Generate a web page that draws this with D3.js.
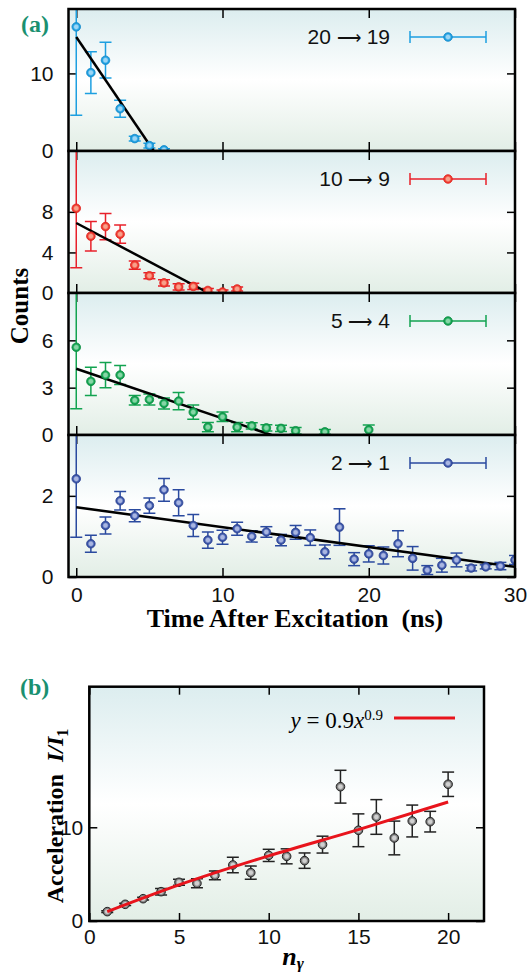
<!DOCTYPE html>
<html>
<head>
<meta charset="utf-8">
<script src="https://cdn.jsdelivr.net/npm/d3@7"></script>
<style>
  body { margin: 0; background: #fff; }
  svg text { font-family: "Liberation Sans", Arial, sans-serif; }
  .serif { font-family: "Liberation Serif", "Times New Roman", serif !important; }
</style>
</head>
<body>
<div id="chart"></div>
<script>
// ---- data ----
// (a) 20 -> 19
const time20 = [0, 1, 2, 3, 4, 5, 6];
const counts20 = [16.0, 10.1, 11.7, 5.45, 1.6, 0.7, 0.15];
const err20 = [11.4, 2.7, 2.3, 1.1, 0.3, 0.3, 0.15];
const fit20 = [[0, 14.7], [5.3, 0]];

// (a) 10 -> 9
const time10 = [0, 1, 2, 3, 4, 5, 6, 7, 8, 9, 10, 11];
const counts10 = [8.35, 5.6, 6.55, 5.8, 2.75, 1.7, 1.0, 0.6, 0.65, 0.25, 0.1, 0.4];
const err10 = [5.85, 1.45, 1.3, 0.9, 0.4, 0.3, 0.3, 0.3, 0.3, 0.2, 0.2, 0.2];
const fit10 = [[0, 6.9], [9.05, 0]];

// (a) 5 -> 4
const time5 = [0, 1, 2, 3, 4, 5, 6, 7, 8, 9, 10, 11, 12, 13, 14, 15, 17, 20];
const counts5 = [5.56, 3.4, 3.8, 3.8, 2.2, 2.25, 2.0, 2.15, 1.45, 0.5, 1.15, 0.5, 0.58, 0.45, 0.42, 0.27, 0.2, 0.33];
const err5 = [3.9, 0.9, 0.8, 0.6, 0.3, 0.35, 0.35, 0.55, 0.45, 0.3, 0.3, 0.3, 0.2, 0.2, 0.2, 0.2, 0.15, 0.3];
const fit5 = [[0, 4.2], [13.35, 0]];

// (a) 2 -> 1
const time2 = d3.range(0, 31);
const counts2 = [2.42, 0.82, 1.27, 1.88, 1.51, 1.76, 2.15, 1.83, 1.27, 0.91, 0.98, 1.19, 1.0, 1.11, 0.91, 1.1,
  0.97, 0.62, 1.23, 0.44, 0.57, 0.53, 0.82, 0.46, 0.17, 0.29, 0.42, 0.22, 0.25, 0.27, 0.42];
const err2 = [1.44, 0.21, 0.21, 0.23, 0.15, 0.19, 0.28, 0.32, 0.27, 0.2, 0.17, 0.16, 0.14, 0.13, 0.14, 0.17,
  0.19, 0.17, 0.45, 0.16, 0.2, 0.21, 0.32, 0.29, 0.11, 0.17, 0.17, 0.07, 0.05, 0.09, 0.11];
const fit2 = [[0, 1.72], [30, 0.25]];

// (b) acceleration vs photon number
const nGamma = [1, 2, 3, 4, 5, 6, 7, 8, 9, 10, 11, 12, 13, 14, 15, 16, 17, 18, 19, 20];
const accel = [1.0, 1.78, 2.38, 3.13, 4.13, 4.02, 4.87, 5.98, 5.16, 7.0, 6.9, 6.44, 8.15, 14.33, 9.68, 11.1, 8.86, 10.67, 10.6, 14.59];
const accelErr = [0.1, 0.12, 0.15, 0.35, 0.32, 0.48, 0.47, 0.82, 0.7, 0.65, 0.8, 0.82, 0.9, 1.75, 1.75, 1.85, 1.8, 1.7, 1.1, 1.3];
const powerFit = [[1, 1.0], [5, 3.85], [10, 6.95], [15, 9.75], [20, 12.7]];

const W = 528, H = 972;
const svg = d3.select("#chart").append("svg").attr("width", W).attr("height", H);
const defs = svg.append("defs");

// background gradient (blue-ish top, white middle, green-ish bottom)
const bg = defs.append("linearGradient").attr("id", "bg").attr("x1", 0).attr("x2", 0).attr("y1", 0).attr("y2", 1);
bg.append("stop").attr("offset", "0%").attr("stop-color", "#dcedef");
bg.append("stop").attr("offset", "50%").attr("stop-color", "#ffffff");
bg.append("stop").attr("offset", "100%").attr("stop-color", "#e2eee6");

// shaded marker gradients
function markerGradient(id, light, base) {
  const g = defs.append("radialGradient").attr("id", id).attr("cx", "50%").attr("cy", "50%").attr("r", "50%");
  g.append("stop").attr("offset", "0%").attr("stop-color", light);
  g.append("stop").attr("offset", "40%").attr("stop-color", light);
  g.append("stop").attr("offset", "75%").attr("stop-color", base);
  g.append("stop").attr("offset", "100%").attr("stop-color", base);
}
markerGradient("mBlue", "#9bd6f6", "#1d9fe0");
markerGradient("mRed", "#f8a08a", "#ee3b30");
markerGradient("mGreen", "#86d6a6", "#12a350");
markerGradient("mNavy", "#a9b6e2", "#3a55a8");
markerGradient("mGray", "#d0d0d0", "#7a7a7a");

// ---- panel (a) ----
const left = 68.5, right = 515;
const x = d3.scaleLinear().domain([-0.53, 30]).range([left, right]);

const panels = [
  { time: time20, counts: counts20, err: err20, fit: fit20, top: 9, bottom: 151, max: 18.3, ticks: [0, 10],
    from: "20", to: "19", color: "#1d9fe0", stroke: "#1588c8", grad: "mBlue" },
  { time: time10, counts: counts10, err: err10, fit: fit10, top: 151, bottom: 293, max: 14, ticks: [0, 4, 8],
    from: "10", to: "9", color: "#e8202a", stroke: "#e0201a", grad: "mRed" },
  { time: time5, counts: counts5, err: err5, fit: fit5, top: 293, bottom: 435, max: 9, ticks: [0, 3, 6],
    from: "5", to: "4", color: "#12a350", stroke: "#0c8c42", grad: "mGreen" },
  { time: time2, counts: counts2, err: err2, fit: fit2, top: 435, bottom: 577, max: 3.5, ticks: [0, 2],
    from: "2", to: "1", color: "#2a4a9f", stroke: "#2a3f8f", grad: "mNavy" }
];

panels.forEach((p, i) => {
  const y = d3.scaleLinear().domain([0, p.max]).range([p.bottom, p.top]);
  const clipId = "clipA" + i;
  defs.append("clipPath").attr("id", clipId)
    .append("rect").attr("x", left).attr("y", p.top).attr("width", right - left).attr("height", p.bottom - p.top);

  // background
  svg.append("rect").attr("x", left).attr("y", p.top).attr("width", right - left)
    .attr("height", p.bottom - p.top).attr("fill", "url(#bg)");

  // axes with inward ticks
  const gl = svg.append("g").attr("transform", `translate(${left},0)`)
    .call(d3.axisLeft(y).tickValues(p.ticks).tickSize(-8).tickPadding(15).tickFormat(d3.format("d")));
  const gr = svg.append("g").attr("transform", `translate(${right},0)`)
    .call(d3.axisRight(y).tickValues(p.ticks).tickSize(-8).tickFormat(""));
  const gt = svg.append("g").attr("transform", `translate(0,${p.top})`)
    .call(d3.axisTop(x).tickValues([0, 10, 20, 30]).tickSize(-9).tickFormat(""));
  const gb = svg.append("g").attr("transform", `translate(0,${p.bottom})`)
    .call(d3.axisBottom(x).tickValues([0, 10, 20, 30]).tickSize(-9).tickPadding(10)
      .tickFormat(i === panels.length - 1 ? d3.format("d") : ""));
  [gl, gr, gt, gb].forEach((g) => {
    g.select(".domain").remove();
    g.selectAll("line").attr("stroke", "#000").attr("stroke-width", 1.5);
    g.selectAll("text").attr("font-size", 21).attr("fill", "#111")
      .style("font-family", "'Liberation Sans', Arial, sans-serif");
  });

  const plot = svg.append("g").attr("clip-path", `url(#${clipId})`);
  const pts = p.time.map((t, k) => ({ t: t, c: p.counts[k], e: p.err[k] }));

  // error bars
  const eb = plot.selectAll(".eb" + i).data(pts).enter().append("g")
    .attr("stroke", p.color).attr("stroke-width", 1.5).attr("fill", "none");
  eb.append("line").attr("x1", (d) => x(d.t)).attr("x2", (d) => x(d.t))
    .attr("y1", (d) => y(d.c + d.e)).attr("y2", (d) => y(Math.max(d.c - d.e, 0)));
  eb.append("line").attr("x1", (d) => x(d.t) - 6).attr("x2", (d) => x(d.t) + 6)
    .attr("y1", (d) => y(d.c + d.e)).attr("y2", (d) => y(d.c + d.e));
  eb.append("line").attr("x1", (d) => x(d.t) - 6).attr("x2", (d) => x(d.t) + 6)
    .attr("y1", (d) => y(Math.max(d.c - d.e, 0))).attr("y2", (d) => y(Math.max(d.c - d.e, 0)));

  // fit line
  plot.append("path").datum(p.fit)
    .attr("d", d3.line().x((d) => x(d[0])).y((d) => y(d[1])))
    .attr("fill", "none").attr("stroke", "#000").attr("stroke-width", 2.5);

  // markers
  plot.selectAll(".pt" + i).data(pts).enter().append("circle")
    .attr("cx", (d) => x(d.t)).attr("cy", (d) => y(d.c)).attr("r", 4.3)
    .attr("fill", `url(#${p.grad})`).attr("stroke", p.stroke).attr("stroke-width", 0.8);

  // legend
  const ly = p.top + 28;
  const lt = svg.append("text").attr("x", 390).attr("y", ly).attr("dy", "0.35em").attr("text-anchor", "end")
    .attr("font-size", 21).attr("fill", "#111").attr("xml:space", "preserve");
  lt.append("tspan").text(p.from + " ");
  lt.append("tspan").attr("font-size", 17).text("\u27F6");
  lt.append("tspan").text(" " + p.to);
  const lg = svg.append("g").attr("stroke", p.color).attr("stroke-width", 1.5);
  lg.append("line").attr("x1", 410).attr("x2", 486).attr("y1", ly).attr("y2", ly);
  lg.append("line").attr("x1", 410).attr("x2", 410).attr("y1", ly - 6).attr("y2", ly + 6);
  lg.append("line").attr("x1", 486).attr("x2", 486).attr("y1", ly - 6).attr("y2", ly + 6);
  svg.append("circle").attr("cx", 448).attr("cy", ly).attr("r", 4.3)
    .attr("fill", `url(#${p.grad})`).attr("stroke", p.stroke).attr("stroke-width", 0.8);

  // frame
  svg.append("rect").attr("x", left).attr("y", p.top).attr("width", right - left)
    .attr("height", p.bottom - p.top).attr("fill", "none").attr("stroke", "#000").attr("stroke-width", 2.5);
});

// panel (a) labels
svg.append("text").attr("class", "serif").attr("x", 21).attr("y", 32)
  .attr("font-size", 24).attr("font-weight", "bold").attr("fill", "#1a9070").text("(a)");
svg.append("text").attr("class", "serif").attr("transform", "translate(28,306) rotate(-90)")
  .attr("text-anchor", "middle").attr("font-size", 25).attr("font-weight", "bold").text("Counts");
svg.append("text").attr("class", "serif").attr("x", 295).attr("y", 627)
  .attr("text-anchor", "middle").attr("font-size", 26).attr("font-weight", "bold")
  .attr("xml:space", "preserve").text("Time After Excitation  (ns)");

// ---- panel (b) ----
const bLeft = 89.3, bRight = 484, bTop = 686.7, bBottom = 921;
const xb = d3.scaleLinear().domain([0, 22]).range([bLeft, bRight]);
const yb = d3.scaleLinear().domain([0, 25]).range([bBottom, bTop]);

defs.append("clipPath").attr("id", "clipB")
  .append("rect").attr("x", bLeft).attr("y", bTop).attr("width", bRight - bLeft).attr("height", bBottom - bTop);
svg.append("rect").attr("x", bLeft).attr("y", bTop).attr("width", bRight - bLeft)
  .attr("height", bBottom - bTop).attr("fill", "url(#bg)");

const bl = svg.append("g").attr("transform", `translate(${bLeft},0)`)
  .call(d3.axisLeft(yb).tickValues([0, 10]).tickSize(-8).tickPadding(6));
const br = svg.append("g").attr("transform", `translate(${bRight},0)`)
  .call(d3.axisRight(yb).tickValues([0, 10]).tickSize(-8).tickFormat(""));
const bt = svg.append("g").attr("transform", `translate(0,${bTop})`)
  .call(d3.axisTop(xb).tickValues([0, 5, 10, 15, 20]).tickSize(-8).tickFormat(""));
const bb = svg.append("g").attr("transform", `translate(0,${bBottom})`)
  .call(d3.axisBottom(xb).tickValues([0, 5, 10, 15, 20]).tickSize(-8).tickPadding(8));
[bl, br, bt, bb].forEach((g) => {
  g.select(".domain").remove();
  g.selectAll("line").attr("stroke", "#000").attr("stroke-width", 1.5);
  g.selectAll("text").attr("font-size", 21).attr("fill", "#111")
    .style("font-family", "'Liberation Sans', Arial, sans-serif");
});

const plotB = svg.append("g").attr("clip-path", "url(#clipB)");
const ptsB = nGamma.map((n, k) => ({ n: n, a: accel[k], e: accelErr[k] }));

const ebB = plotB.selectAll(".ebB").data(ptsB).enter().append("g")
  .attr("stroke", "#222").attr("stroke-width", 1.5);
ebB.append("line").attr("x1", (d) => xb(d.n)).attr("x2", (d) => xb(d.n))
  .attr("y1", (d) => yb(d.a + d.e)).attr("y2", (d) => yb(d.a - d.e));
ebB.append("line").attr("x1", (d) => xb(d.n) - 6).attr("x2", (d) => xb(d.n) + 6)
  .attr("y1", (d) => yb(d.a + d.e)).attr("y2", (d) => yb(d.a + d.e));
ebB.append("line").attr("x1", (d) => xb(d.n) - 6).attr("x2", (d) => xb(d.n) + 6)
  .attr("y1", (d) => yb(d.a - d.e)).attr("y2", (d) => yb(d.a - d.e));

plotB.selectAll(".ptB").data(ptsB).enter().append("circle")
  .attr("cx", (d) => xb(d.n)).attr("cy", (d) => yb(d.a)).attr("r", 4.3)
  .attr("fill", "url(#mGray)").attr("stroke", "#222").attr("stroke-width", 1);

plotB.append("path").datum(powerFit)
  .attr("d", d3.line().curve(d3.curveMonotoneX).x((d) => xb(d[0])).y((d) => yb(d[1])))
  .attr("fill", "none").attr("stroke", "#e8141c").attr("stroke-width", 3);

// legend (b)
const legB = svg.append("text").attr("class", "serif").attr("x", 383).attr("y", 720)
  .attr("dy", "0.35em").attr("text-anchor", "end").attr("font-size", 23).attr("font-style", "italic");
legB.append("tspan").text("y");
legB.append("tspan").attr("font-style", "normal").text(" = 0.9");
legB.append("tspan").text("x");
legB.append("tspan").attr("font-style", "normal").attr("font-size", 15).attr("dy", "-0.55em").text("0.9");
svg.append("line").attr("x1", 394).attr("x2", 455).attr("y1", 718).attr("y2", 718)
  .attr("stroke", "#e8141c").attr("stroke-width", 3);

svg.append("rect").attr("x", bLeft).attr("y", bTop).attr("width", bRight - bLeft)
  .attr("height", bBottom - bTop).attr("fill", "none").attr("stroke", "#000").attr("stroke-width", 2.5);

// panel (b) labels
svg.append("text").attr("class", "serif").attr("x", 20).attr("y", 695)
  .attr("font-size", 24).attr("font-weight", "bold").attr("fill", "#1a9070").text("(b)");
const yTitle = svg.append("text").attr("class", "serif").attr("transform", "translate(63,816) rotate(-90)")
  .attr("text-anchor", "middle").attr("font-size", 24).attr("font-weight", "bold")
  .attr("xml:space", "preserve");
yTitle.append("tspan").text("Acceleration  ");
yTitle.append("tspan").attr("font-style", "italic").text("I/I");
yTitle.append("tspan").attr("font-size", 16).attr("dy", "0.3em").text("1");
const xTitle = svg.append("text").attr("class", "serif").attr("x", 293).attr("y", 965)
  .attr("text-anchor", "middle").attr("font-size", 26).attr("font-weight", "bold").attr("font-style", "italic");
xTitle.append("tspan").text("n");
xTitle.append("tspan").attr("font-size", 17).attr("dy", "0.25em").text("\u03b3");
</script>
</body>
</html>
